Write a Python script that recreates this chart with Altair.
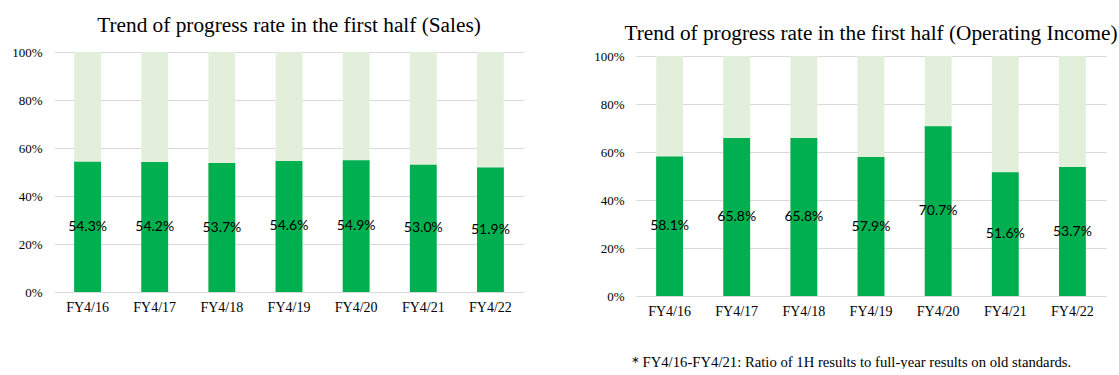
import altair as alt
import pandas as pd

years = ["FY4/16", "FY4/17", "FY4/18", "FY4/19", "FY4/20", "FY4/21", "FY4/22"]
sales_rate = [54.3, 54.2, 53.7, 54.6, 54.9, 53.0, 51.9]
oi_rate = [58.1, 65.8, 65.8, 57.9, 70.7, 51.6, 53.7]

title_sales = "Trend of progress rate in the first half (Sales)"
title_oi = "Trend of progress rate in the first half (Operating Income)"
footnote = "＊FY4/16-FY4/21: Ratio of 1H results to full-year results on old standards."

DARK = "#00B050"
LIGHT = "#E2EFDA"
GRID = "#D9D9D9"
SERIF = "'Liberation Serif', 'Times New Roman', serif"


def panel(values, title, title_offset, height, y_range, x_title=None):
    df = pd.DataFrame({"year": years, "rate": values})
    base = alt.Chart(df).transform_calculate(
        v="datum.rate / 100",
        mid="datum.rate / 200",
        full="1",
        label="format(datum.rate, '.1f') + '%'",
    )
    x_axis_kwargs = dict(
        labelAngle=0,
        ticks=False,
        domain=False,
        grid=False,
        labelFont=SERIF,
        labelFontSize=14,
        labelColor="#000000",
        labelPadding=8,
    )
    if x_title:
        x_axis_kwargs.update(
            title=x_title,
            titleFont=SERIF,
            titleFontSize=14.7,
            titleFontWeight="normal",
            titleColor="#000000",
            titleAlign="left",
            titleAnchor="start",
            titleX=-9,
            titleY=70,
            titleBaseline="alphabetic",
        )
    else:
        x_axis_kwargs.update(title=None)
    x = alt.X(
        "year:N",
        sort=years,
        scale=alt.Scale(paddingInner=0.6, paddingOuter=0.3),
        axis=alt.Axis(**x_axis_kwargs),
    )
    y_scale = alt.Scale(domain=[0, 1], nice=False, range=y_range)
    y_axis = alt.Axis(
        values=[0, 0.2, 0.4, 0.6, 0.8, 1.0],
        format=".0%",
        title=None,
        ticks=False,
        domain=False,
        grid=True,
        gridColor=GRID,
        gridWidth=1,
        labelFont=SERIF,
        labelFontSize=13,
        labelColor="#000000",
        labelPadding=12,
    )
    bg = base.mark_bar(color=LIGHT).encode(
        x=x, y=alt.Y("full:Q", scale=y_scale, axis=y_axis)
    )
    fg = base.mark_bar(color=DARK).encode(x=x, y=alt.Y("v:Q", scale=y_scale))
    txt = base.mark_text(
        font="Lato", fontSize=14, color="#000000", baseline="middle", align="center"
    ).encode(x=x, y=alt.Y("mid:Q", scale=y_scale), text="label:N")
    return alt.layer(bg, fg, txt).properties(
        width=470,
        height=height,
        title=alt.TitleParams(
            title,
            font=SERIF,
            fontSize=21.3,
            fontWeight="normal",
            color="#000000",
            offset=title_offset,
        ),
    )


left = panel(sales_rate, title_sales, 10, 240, [240, 0])
right = panel(oi_rate, title_oi, 6, 244, [244, 4], x_title=footnote)

chart = (
    alt.hconcat(left, right, spacing=69)
    .properties(padding={"left": 11, "top": 14, "right": 0, "bottom": 0})
    .configure_view(stroke=None)
    .configure_concat(spacing=69)
)

chart.save("out.html", embed_options={"renderer": "svg", "actions": False})
